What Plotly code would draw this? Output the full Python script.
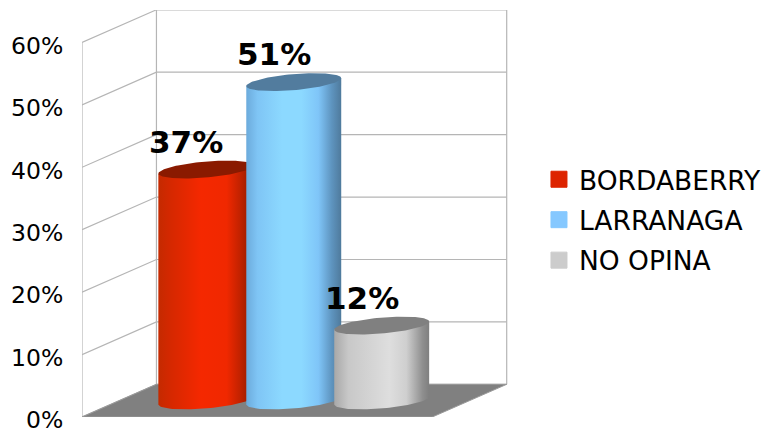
import numpy as np
import plotly.graph_objects as go

series_names = ["BORDABERRY", "LARRANAGA", "NO OPINA"]
series_values = [37, 51, 12]
tick_values = [0, 10, 20, 30, 40, 50, 60]
tick_labels = ["0%", "10%", "20%", "30%", "40%", "50%", "60%"]

legend_colors = ["#DD2400", "#85C8FF", "#CCCCCC"]
top_colors = ["#8A1A00", "#527C9E", "#808080"]
side_scales = [
    [[0, "#C42A00"], [0.12, "#D42800"], [0.45, "#F52800"], [0.72, "#F02800"], [0.86, "#C22200"], [1, "#8A1A00"]],
    [[0, "#6CABDC"], [0.12, "#7FC5F5"], [0.38, "#8CD9FF"], [0.58, "#8CD9FF"], [0.76, "#7FC5F8"], [0.9, "#5E94BF"], [1, "#4F7A9C"]],
    [[0, "#A8A8A8"], [0.15, "#C8C8C8"], [0.58, "#DEDEDE"], [0.76, "#CFCFCF"], [0.93, "#8F8F8F"], [1, "#7F7F7F"]],
]

PX_X = 88.0          # pixels per series step
PX_Y = 6.245         # pixels per percent
X0_PX, X1_PX = 81.7, 510.0
C0_PX = 205.6
XR = [(X0_PX - C0_PX) / PX_X, (X1_PX - C0_PX) / PX_X]
YR = [0, (416.7 - 9.5) / PX_Y]

DX = 74.5 / PX_X     # wall depth, x units
DY = 32.7 / PX_Y     # wall depth, y units
BACK_R = XR[0] + 425.0 / PX_X
BASE = 2.65          # cylinder base centre above floor front edge
RX = 47.5 / PX_X
RY = 8.0 / PX_Y
TILT = 4.0 / PX_Y

GRID = "#B5B5B5"
fig = go.Figure()

# walls
gx, gy = [], []
for t in tick_values:
    gx += [XR[0], XR[0] + DX, BACK_R, None]
    gy += [t, t + DY, t + DY, None]
gx += [XR[0], XR[0], None, XR[0] + DX, XR[0] + DX, None, BACK_R, BACK_R, None]
gy += [0, tick_values[-1], None, DY, tick_values[-1] + DY, None, DY, tick_values[-1] + DY, None]
fig.add_trace(go.Scatter(x=gx, y=gy, mode="lines", line=dict(color=GRID, width=1.2),
                         showlegend=False, hoverinfo="skip", cliponaxis=False))

# floor
fig.add_trace(go.Scatter(
    x=[XR[0], XR[0] + DX, BACK_R, BACK_R - DX, XR[0]],
    y=[0, DY, DY, 0, 0], mode="lines", fill="toself", fillcolor="#808080",
    line=dict(color="#9A9A9A", width=1), showlegend=False, hoverinfo="skip", cliponaxis=False))

theta = np.linspace(0, 2 * np.pi, 121)
for i, v in enumerate(series_values):
    top = v + BASE
    # side: straight left/right edges, front half of the base ellipse
    front = np.linspace(0, np.pi, 61)
    bx = i + RX * np.cos(front)
    by = BASE + TILT * np.cos(front) - RY * np.sin(front)
    sx = np.concatenate([[i - RX, i + RX], bx, [i - RX]])
    sy = np.concatenate([[top - TILT, top + TILT], by, [top - TILT]])
    fig.add_trace(go.Scatter(
        x=sx, y=sy, mode="lines", fill="toself", line=dict(width=0),
        fillgradient=dict(type="horizontal", colorscale=side_scales[i]),
        showlegend=False, hoverinfo="skip", cliponaxis=False))
    # top ellipse
    fig.add_trace(go.Scatter(
        x=i + RX * np.cos(theta), y=top + TILT * np.cos(theta) + RY * np.sin(theta),
        mode="lines", fill="toself", fillcolor=top_colors[i], line=dict(width=0),
        showlegend=False, hoverinfo="skip", cliponaxis=False))

# legend entries
for i, name in enumerate(series_names):
    fig.add_trace(go.Scatter(
        x=[None], y=[None], mode="markers", name=name, legendgroup=name,
        marker=dict(symbol="square", size=16, color=legend_colors[i],
                    line=dict(width=1, color=legend_colors[i]))))

# data labels
annotations = [
    dict(x=i, y=v + BASE, xref="x", yref="y", text=f"<b>{v}%</b>", showarrow=False,
         xshift=-19.5, yshift=28, font=dict(family="DejaVu Sans", size=31, color="#000000"))
    for i, v in enumerate(series_values)
]

fig.update_layout(
    width=765, height=433,
    margin=dict(l=X0_PX, r=765 - X1_PX, t=9.5, b=16.3, pad=0, autoexpand=False),
    paper_bgcolor="#FFFFFF", plot_bgcolor="#FFFFFF",
    font=dict(family="DejaVu Sans", color="#000000"),
    annotations=annotations,
    xaxis=dict(range=XR, visible=False, fixedrange=True, automargin=False),
    yaxis=dict(range=YR, tickmode="array", tickvals=tick_values, ticktext=tick_labels,
               showgrid=False, zeroline=False, showline=False, ticks="outside", ticklen=13,
               tickcolor="rgba(0,0,0,0)", tickfont=dict(family="DejaVu Sans", size=23.5, color="#000000"),
               ticklabelshift=3, ticklabeloverflow="allow", fixedrange=True, automargin=False),
    legend=dict(x=(539.0 - X0_PX) / (X1_PX - X0_PX), xanchor="left", y=0.484, yanchor="middle",
                font=dict(family="DejaVu Sans", size=26.5, color="#000000"),
                tracegroupgap=3, bgcolor="rgba(0,0,0,0)"),
    showlegend=True,
)

fig.write_html("out.html", config={"displayModeBar": False},
               post_script="document.body.style.margin='0';")
